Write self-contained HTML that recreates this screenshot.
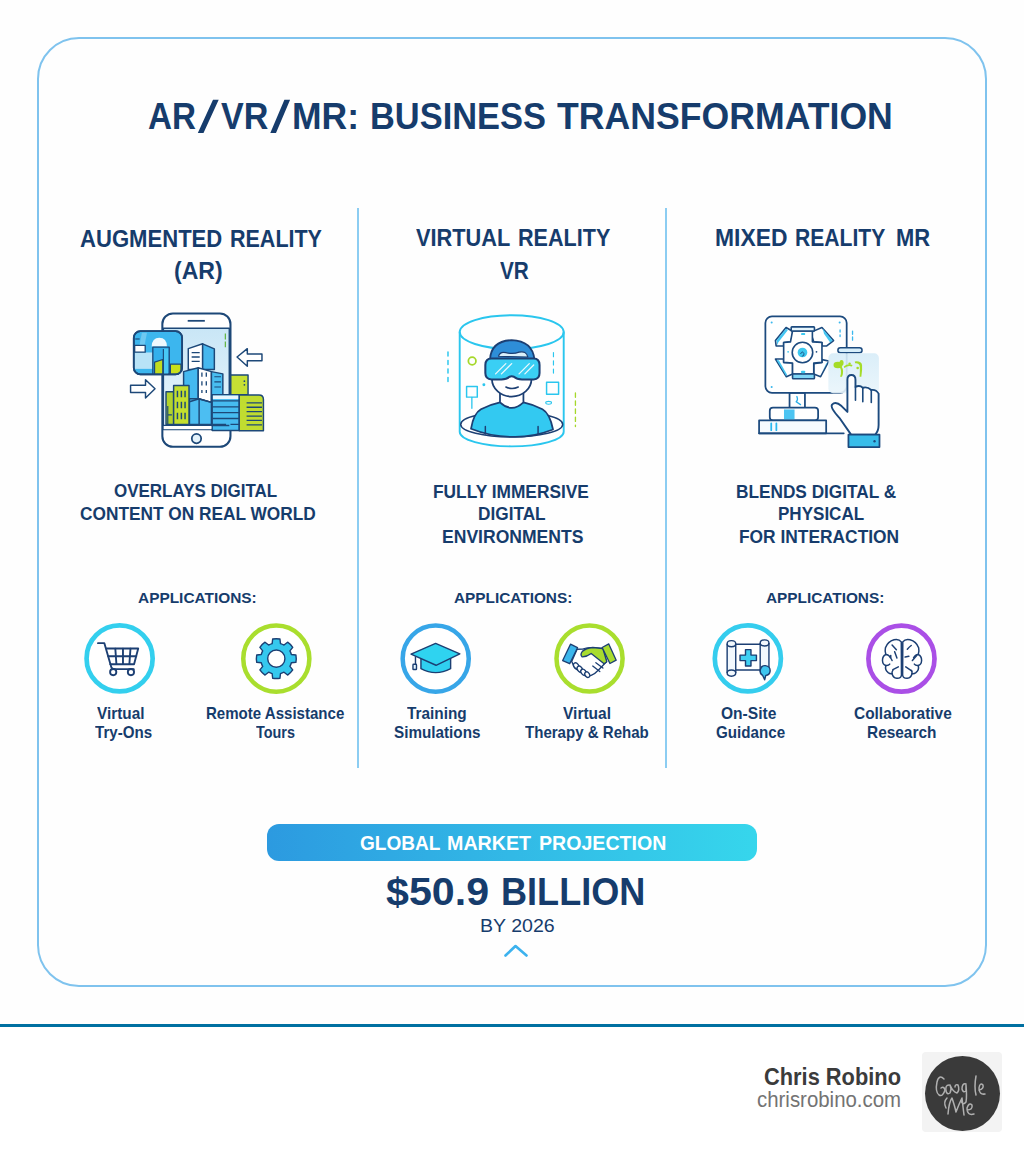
<!DOCTYPE html>
<html><head><meta charset="utf-8"><style>
html,body{margin:0;padding:0;}
body{width:1024px;height:1154px;position:relative;overflow:hidden;background:#ffffff;font-family:"Liberation Sans",sans-serif;}
.bg{position:absolute;left:0;top:0;width:1024px;height:1024px;background:#fefefe;}
.card{position:absolute;left:36.6px;top:36.6px;width:946.8px;height:946.8px;border:2px solid #7fc3ee;border-radius:42px;}
.div{position:absolute;top:208px;width:2px;height:560px;background:#8ccdf2;}
.t{position:absolute;white-space:pre;transform-origin:0 0;}
.bar{position:absolute;left:267px;top:824px;width:489.5px;height:37px;border-radius:12px;background:linear-gradient(90deg,#2c9ae0 0%,#32b9e6 50%,#36d6ec 100%);}
.hr{position:absolute;left:0;top:1024px;width:1024px;height:3px;background:#0070a1;}
.av{position:absolute;left:922px;top:1052px;width:80px;height:80px;background:#f3f3f3;border-radius:4px;}
.avc{position:absolute;left:925px;top:1055.5px;width:75px;height:75px;border-radius:50%;background:#3a3a3a;}
</style></head><body>
<div class="bg"></div>
<div class="card"></div>
<div class="div" style="left:357.2px"></div>
<div class="div" style="left:664.6px"></div>
<div class="bar"></div>
<div class="hr"></div>
<div class="av"></div>
<div class="avc"></div>
<!-- app icons: each 80x80 svg, viewBox 1024 -->
<svg style="position:absolute;left:80px;top:618px" width="80" height="80" viewBox="0 0 1024 1024">
<circle cx="507" cy="517" r="423" fill="#fff" stroke="#33cfee" stroke-width="60"/>
<g fill="none" stroke="#1c3f73" stroke-width="24" stroke-linejoin="round" stroke-linecap="round">
<path d="M230,322 H312 L400,628 Q408,655 440,655 H688"/>
<path d="M340,390 H745 L692,592 H388"/>
<path d="M362,490 H720 M452,392 L466,590 M550,392 V590 M646,392 L632,590"/>
<circle cx="425" cy="692" r="40" fill="#fff"/><circle cx="652" cy="692" r="40" fill="#fff"/>
</g></svg>

<svg style="position:absolute;left:236px;top:618px" width="80" height="80" viewBox="0 0 1024 1024">
<circle cx="516" cy="520" r="423" fill="#fff" stroke="#a9de2e" stroke-width="58"/>
<g transform="translate(516,520)">
<path id="gear" fill="#35c8ee" stroke="#1c3f73" stroke-width="18" stroke-linejoin="round" d="M-53.4,-192.7 L-46.5,-250.7 A255,255 0 0 1 46.5,-250.7 L53.4,-192.7 A200,200 0 0 1 98.5,-174.1 L144.4,-210.2 A255,255 0 0 1 210.2,-144.4 L174.1,-98.5 A200,200 0 0 1 192.7,-53.4 L250.7,-46.5 A255,255 0 0 1 250.7,46.5 L192.7,53.4 A200,200 0 0 1 174.1,98.5 L210.2,144.4 A255,255 0 0 1 144.4,210.2 L98.5,174.1 A200,200 0 0 1 53.4,192.7 L46.5,250.7 A255,255 0 0 1 -46.5,250.7 L-53.4,192.7 A200,200 0 0 1 -98.5,174.1 L-144.4,210.2 A255,255 0 0 1 -210.2,144.4 L-174.1,98.5 A200,200 0 0 1 -192.7,53.4 L-250.7,46.5 A255,255 0 0 1 -250.7,-46.5 L-192.7,-53.4 A200,200 0 0 1 -174.1,-98.5 L-210.2,-144.4 A255,255 0 0 1 -144.4,-210.2 L-98.5,-174.1 A200,200 0 0 1 -53.4,-192.7 Z"/>
<circle r="110" fill="#fff" stroke="#1c3f73" stroke-width="18"/>
</g></svg>

<svg style="position:absolute;left:395px;top:618px" width="80" height="80" viewBox="0 0 1024 1024">
<circle cx="521" cy="520" r="423" fill="#fff" stroke="#37a6e8" stroke-width="58"/>
<g stroke="#1c3f73" stroke-width="18" stroke-linejoin="round">
<path d="M332,510 V648 Q520,750 712,648 V515 Z" fill="#2fd0f0"/>
<path d="M205,462 L520,325 L830,458 L525,605 Z" fill="#2fd3f0"/>
<path d="M262,492 V592" fill="none"/>
<rect x="230" y="592" width="45" height="68" rx="8" fill="#e6f6ff"/>
</g></svg>

<svg style="position:absolute;left:549px;top:618px" width="80" height="80" viewBox="0 0 1024 1024">
<circle cx="519" cy="518" r="423" fill="#fff" stroke="#a9de2e" stroke-width="58"/>
<g stroke="#1c3f73" stroke-width="17" stroke-linejoin="round" stroke-linecap="round">
<path d="M290,555 L360,400 L430,398 Q490,372 560,380 L690,392 L735,560 L640,660 Q590,715 540,735 L470,745 L330,640 Z" fill="#fff"/>
<ellipse cx="348" cy="612" rx="30" ry="42" transform="rotate(-38 348 612)" fill="#fff"/>
<ellipse cx="395" cy="655" rx="30" ry="42" transform="rotate(-38 395 655)" fill="#fff"/>
<ellipse cx="442" cy="694" rx="30" ry="42" transform="rotate(-38 442 694)" fill="#fff"/>
<ellipse cx="490" cy="725" rx="28" ry="38" transform="rotate(-38 490 725)" fill="#fff"/>
<path d="M425,498 Q395,470 425,430 Q470,385 560,378 L690,390 L740,560 L705,585 L540,455 Q480,500 425,498 Z" fill="#a8dc2f"/>
<path d="M600,572 L690,640 M560,615 L650,685" fill="none"/>
<path d="M175,545 L275,335 L365,380 L265,585 Z" fill="#3bb6ec"/>
<path d="M680,378 L765,332 L860,540 L780,582 Z" fill="#a8dc2f"/>
</g></svg>

<svg style="position:absolute;left:708px;top:618px" width="80" height="80" viewBox="0 0 1024 1024">
<circle cx="510" cy="517" r="423" fill="#fff" stroke="#35cdee" stroke-width="60"/>
<g stroke="#1c3f73" stroke-width="18" stroke-linejoin="round" fill="none">
<path d="M355,335 H668 M355,665 H668"/>
<path d="M245,330 Q245,290 300,290 Q355,290 355,330 V705 Q355,745 300,745 Q245,745 245,705 Z" fill="#f2f8fd"/>
<path d="M245,330 Q245,368 300,368 Q355,368 355,330 M245,705 Q245,665 300,665 Q355,665 355,705"/>
<path d="M668,320 Q668,280 724,280 Q780,280 780,320 V680 L668,680 Z" fill="#f2f8fd"/>
<path d="M668,320 Q668,358 724,358 Q780,358 780,320"/>
<path d="M480,405 H550 V475 H620 V545 H550 V615 H480 V545 H410 V475 H480 Z" fill="#3fd0f2"/>
<path d="M670,660 Q680,605 735,610 Q800,620 795,680 Q790,730 740,735 L725,790 L700,735 Q660,720 670,660 Z" fill="#3fc5ef"/>
</g></svg>

<svg style="position:absolute;left:862px;top:618px" width="80" height="80" viewBox="0 0 1024 1024">
<circle cx="505" cy="520" r="423" fill="#fff" stroke="#aa4fe6" stroke-width="60"/>
<g stroke="#1c3f73" stroke-width="19" stroke-linejoin="round" stroke-linecap="round" fill="none">
<path d="M503,305 Q470,262 410,278 Q330,300 300,380 Q290,430 305,468 Q262,485 262,545 Q265,600 305,608 Q290,665 335,700 Q360,718 385,712 Q395,765 445,772 Q500,775 505,730 Z" fill="#fff"/>
<path d="M522,305 Q555,262 615,278 Q695,300 725,380 Q735,430 720,468 Q763,485 763,545 Q760,600 720,608 Q735,665 690,700 Q665,718 640,712 Q630,765 580,772 Q525,775 520,730 Z" fill="#fff"/>
<path d="M305,468 Q345,470 365,510 M305,608 Q340,612 355,590 M385,712 Q380,690 395,670 M720,468 Q680,470 660,510 M720,608 Q685,612 670,590 M640,712 Q645,690 630,670"/>
<path d="M385,345 L440,405 M418,432 L447,512 M395,662 L465,625 M580,400 Q605,370 630,352 M552,500 L600,490 M645,545 L700,480 M560,625 L640,680 M368,480 Q360,520 385,545"/>
</g></svg>
<!-- AR illustration -->
<svg style="position:absolute;left:125px;top:305px" width="150" height="150" viewBox="0 0 1024 1024">
<defs>
<linearGradient id="scr" x1="0" y1="0" x2="0" y2="1"><stop offset="0" stop-color="#c9e6f6"/><stop offset="1" stop-color="#eaf6fc"/></linearGradient>
<linearGradient id="crd" x1="0" y1="0" x2="0" y2="1"><stop offset="0" stop-color="#3aa8e6"/><stop offset="0.45" stop-color="#57b9ec"/><stop offset="0.55" stop-color="#bfe4f6"/><stop offset="1" stop-color="#3aa8e6"/></linearGradient>
</defs>
<g stroke="#1d4878" stroke-linejoin="round">
<rect x="255" y="58" width="465" height="910" rx="72" fill="#fff" stroke-width="14"/>
<path d="M428,108 H545" stroke-width="12"/>
<rect x="262" y="158" width="450" height="692" fill="url(#scr)" stroke-width="10"/>
<circle cx="488" cy="912" r="32" fill="#e5f3fb" stroke-width="12"/>
<path d="M685,195 V300" stroke="#5db33a" stroke-width="8" stroke-dasharray="40 14"/>
<!-- right green bg building -->
<rect x="722" y="478" width="118" height="135" fill="#c6e034" stroke-width="10"/>
<circle cx="815" cy="520" r="6" fill="#1d4878" stroke="none"/><circle cx="815" cy="545" r="6" fill="#1d4878" stroke="none"/>
<!-- tall white building -->
<path d="M432,298 L530,265 V440 H432 Z" fill="#fff" stroke-width="10"/>
<path d="M530,265 L610,300 V440 H530 Z" fill="#46b7ee" stroke-width="10"/>
<path d="M455,325 H510 M455,355 H510 M455,385 H510" stroke-width="9"/>
<!-- middle blue block -->
<path d="M400,455 L500,428 V815 H400 Z" fill="#45b9f0" stroke-width="10"/>
<path d="M500,428 L590,455 V665 L500,640 Z" fill="#fff" stroke-width="10"/>
<path d="M590,455 L668,470 V815 H590 Z" fill="#48bdf0" stroke-width="10"/>
<path d="M440,640 L500,640 L590,665 V815 H440 Z" fill="#4cbef2" stroke-width="10"/>
<path d="M440,660 L506,640 L590,665 M506,640 V815" fill="none" stroke-width="10"/>
<path d="M525,460 V490 M555,460 V490 M525,520 V550 M555,520 V550 M525,580 V600 M555,580 V600" stroke-width="9"/>
<path d="M610,490 H655 M610,525 H655 M610,560 H655" stroke-width="8"/>
<!-- green buildings left -->
<rect x="280" y="592" width="52" height="223" fill="#b2d32c" stroke-width="10"/>
<rect x="332" y="550" width="105" height="265" fill="#c4df2e" stroke-width="10"/>
<path d="M358,585 V630 M385,585 V630 M410,585 V630 M358,660 V705 M385,660 V705 M410,660 V705 M358,735 V780 M385,735 V780 M410,735 V780" stroke-width="10"/>
<path d="M292,690 V815 M292,750 H320" stroke-width="8"/>
<!-- blue striped -->
<rect x="595" y="612" width="185" height="245" fill="#46bbf0" stroke-width="10"/>
<rect x="600" y="618" width="175" height="24" fill="#e8f6fd" stroke="none"/>
<path d="M598,655 H778 M598,695 H778 M598,735 H778 M598,775 H778 M598,815 H690 M720,815 H778" stroke-width="9"/>
<!-- green right -->
<path d="M780,615 H915 Q945,615 945,645 V858 H780 Z" fill="#c0dc30" stroke-width="10"/>
<path d="M830,668 H935 M830,698 H935 M830,728 H935 M830,758 H935 M830,788 H935 M830,818 H935" stroke-width="9"/>
<path d="M262,822 H712" stroke-width="10"/>
<rect x="264" y="826" width="325" height="22" fill="#fff" stroke="none"/>
<!-- left overlay card -->
<rect x="60" y="178" width="330" height="295" rx="45" fill="#3cb6ee" stroke-width="12"/>
<path d="M66,324 H190 V436 H66 Z" fill="#b8e3f7" stroke="none"/>
<path d="M115,190 L150,190 L125,320 L90,320 Z" fill="#8fd3f3" stroke="none" opacity="0.6"/>
<rect x="66" y="276" width="72" height="46" fill="#ffffff" stroke-width="9"/>
<path d="M70,232 H100" stroke-width="8"/>
<path d="M182,284 Q184,224 234,224 Q286,224 286,284 Z" fill="#eef8fd" stroke="none"/>
<path d="M190,288 H302 V472 H190 Z" fill="#33b0ec" stroke-width="9"/>
<path d="M202,390 L258,372 V472 H202 Z" fill="#c2dc1e" stroke-width="8"/>
<path d="M262,300 V472" stroke-width="8"/>
<rect x="266" y="300" width="28" height="172" fill="#49c9f5" stroke="none"/>
<path d="M310,404 H382 V440 Q382,472 350,472 H310 Z" fill="#c8e01a" stroke-width="8"/>
<rect x="60" y="178" width="330" height="295" rx="45" fill="none" stroke-width="12"/>
<!-- arrows -->
<path d="M765,355 L835,298 V335 H935 V380 H835 V418 Z" fill="#fff" stroke-width="10"/>
<path d="M205,572 L140,510 V548 H38 V598 H140 V635 Z" fill="#fff" stroke-width="10"/>
</g>
</svg>

<!-- VR illustration -->
<svg style="position:absolute;left:437px;top:305px" width="150" height="150" viewBox="0 0 1024 1024">
<g stroke-linejoin="round" stroke-linecap="round">
<path d="M155,185 V865 A355,100 0 0 0 865,865 V185" fill="none" stroke="#2ac6ee" stroke-width="13"/>
<ellipse cx="510" cy="815" rx="348" ry="85" fill="#fff" stroke="#1c3f73" stroke-width="10"/>
<path d="M232,845 Q250,740 300,712 Q360,680 430,665 H590 Q660,680 720,712 Q770,740 792,850 Q650,905 510,900 Q370,900 232,845 Z" fill="#33c9f1" stroke="#1c3f73" stroke-width="12"/>
<path d="M330,830 V880 M690,830 V880" stroke="#1c3f73" stroke-width="10"/>
<ellipse cx="510" cy="185" rx="355" ry="115" fill="none" stroke="#2ac6ee" stroke-width="13"/>
<path d="M430,600 V665 Q510,740 590,665 V600 Z" fill="#fff" stroke="#1c3f73" stroke-width="12"/>
<ellipse cx="510" cy="505" rx="135" ry="120" fill="#fff" stroke="#1c3f73" stroke-width="12"/>
<path d="M470,560 Q512,580 555,560" fill="none" stroke="#1c3f73" stroke-width="10"/>
<path d="M362,370 Q370,245 510,240 Q650,245 665,370 Z" fill="#2e8ed8" stroke="#1c3f73" stroke-width="12"/>
<path d="M420,350 Q430,315 470,325 Q520,338 560,322 Q610,310 620,355 Z" fill="#d9f0fb" stroke="#1c3f73" stroke-width="8"/>
<path d="M372,365 H660 Q700,365 700,410 V465 Q700,508 660,508 H580 Q545,508 525,490 Q510,482 495,490 Q475,508 440,508 H372 Q330,508 330,465 V410 Q330,365 372,365 Z" fill="#3acff4" stroke="#1c3f73" stroke-width="14"/>
<path d="M400,470 L470,400 M440,470 L510,400 M560,470 L630,400 M600,470 L660,410" stroke="#e9f8fd" stroke-width="9"/>
<circle cx="240" cy="382" r="26" fill="none" stroke="#a6d82b" stroke-width="12"/>
<rect x="202" y="557" width="73" height="72" fill="none" stroke="#2ac6ee" stroke-width="10"/>
<path d="M238,630 V705" stroke="#2ac6ee" stroke-width="9"/>
<rect x="748" y="527" width="82" height="82" fill="none" stroke="#2ac6ee" stroke-width="10"/>
<path d="M75,320 V535" stroke="#2ac6ee" stroke-width="10" stroke-dasharray="28 30"/>
<path d="M795,325 V490" stroke="#2ac6ee" stroke-width="8" stroke-dasharray="28 28"/>
<path d="M945,600 V830" stroke="#a6d82b" stroke-width="9" stroke-dasharray="30 25"/>
<circle cx="320" cy="545" r="10" fill="#2ac6ee"/>
<ellipse cx="762" cy="668" rx="20" ry="10" fill="none" stroke="#2ac6ee" stroke-width="7"/>
</g>
</svg>

<!-- MR illustration -->
<svg style="position:absolute;left:750px;top:305px" width="150" height="150" viewBox="0 0 1024 1024">
<g stroke="#1c4a7e" stroke-linejoin="round" stroke-linecap="round">
<rect x="270" y="600" width="105" height="102" fill="#fff" stroke-width="12"/>
<path d="M320,625 Q330,650 315,660 L345,680" fill="none" stroke="#2aaee8" stroke-width="9"/>
<rect x="135" y="700" width="330" height="88" rx="22" fill="#fff" stroke-width="12"/>
<rect x="232" y="713" width="72" height="70" fill="#4cc4f2" stroke="none"/>
<rect x="62" y="788" width="458" height="88" fill="#f7fbfe" stroke-width="12"/>
<path d="M145,808 V855 M180,808 V855" stroke="#2ab8ef" stroke-width="12"/>
<path d="M62,876 H640" stroke-width="12"/>
<rect x="105" y="78" width="555" height="522" rx="45" fill="#fff" stroke-width="12"/>
<circle cx="148" cy="120" r="7" fill="#3ab8ee" stroke="none"/><circle cx="612" cy="120" r="7" fill="#3ab8ee" stroke="none"/><circle cx="148" cy="560" r="7" fill="#3ab8ee" stroke="none"/>
<path d="M615,170 V215" stroke="#3ab8ee" stroke-width="9" stroke-dasharray="15 20"/>
<path d="M700,178 V250" stroke="#3ab8ee" stroke-width="9" stroke-dasharray="22 18"/>
<!-- device -->
<path d="M173.8,242.4 L246.2,153.7 L290.5,179.4 L290.5,209.7 L276.5,251.7 L229.8,256.4 L229.8,279.7 L178.5,279.7 Z" fill="#fff" stroke-width="11"/>
<path d="M425.9,181.7 L491.2,153.7 L570.5,242.4 L523.9,279.7 L491.2,279.7 L491.2,256.4 L435.2,251.7 L421.2,209.7 Z" fill="#fff" stroke-width="11"/>
<path d="M173.8,368.4 L248.5,489.8 L290.5,471.1 L290.5,396.4 L229.8,391.8 L229.8,368.4 Z" fill="#fff" stroke-width="11"/>
<path d="M491.2,373.1 L537.9,382.4 L481.9,489.8 L435.2,471.1 L435.2,401.1 L491.2,391.8 Z" fill="#fff" stroke-width="11"/>
<path d="M180.8,242.4 L246.2,160.7 L257.8,172.4 L192.5,256.4 L187.8,275.1 Z" fill="#45c6f2" stroke="none"/>
<path d="M495.9,160.7 L563.5,242.4 L547.2,256.4 L505.2,195.7 Z" fill="#45c6f2" stroke="none"/>
<path d="M180.8,375.4 L197.2,377.8 L253.2,475.8 L246.2,485.1 Z" fill="#45c6f2" stroke="none"/>
<path d="M530.9,387.1 L519.2,401.1 L486.5,471.1 L479.5,482.8 Z" fill="#45c6f2" stroke="none"/>
<path d="M290.5,177.1 L425.9,177.1 L425.9,251.7 L491.2,256.4 L491.2,391.8 L435.2,396.4 L435.2,471.1 L290.5,471.1 L290.5,396.4 L229.8,391.8 L229.8,256.4 L276.5,251.7 Z" fill="#fff" stroke-width="11"/>
<rect x="281.2" y="149.1" width="158.7" height="28.0" rx="5" fill="#e6f6fd" stroke-width="11"/>
<rect x="290.5" y="471.1" width="149.3" height="32.7" rx="5" fill="#7fd6f6" stroke-width="11"/>
<circle cx="358.2" cy="324.1" r="70" fill="#fff" stroke-width="11"/>
<circle cx="358.2" cy="324.1" r="33" fill="#3cc8f0" stroke="none"/>
<path d="M346.2,332.1 q10,-25 22,0 q5,15 -12,18" fill="none" stroke-width="6"/>
<rect x="348.8" y="191.1" width="28" height="14" rx="6" fill="#3cc8f0" stroke="none"/>
<rect x="347.8" y="449.1" width="30" height="16" rx="7" fill="#3cc8f0" stroke="none"/>
<circle cx="260.2" cy="319.4" r="6" fill="#3cc8f0" stroke="none"/>
<circle cx="453.9" cy="319.4" r="6" fill="#1c4a7e" stroke="none"/>
<!-- bar and panel -->
<rect x="600" y="292" width="165" height="34" rx="17" fill="#d7eefa" stroke-width="10"/>
<defs><linearGradient id="pnl" x1="0" y1="0" x2="0" y2="1"><stop offset="0" stop-color="#d6ecf8"/><stop offset="1" stop-color="#e9f5fb"/></linearGradient></defs><rect x="535" y="330" width="345" height="272" rx="32" fill="url(#pnl)" fill-opacity="0.9" stroke="none"/>
<g fill="#a5dc28" stroke="none"><ellipse cx="600" cy="410" rx="30" ry="22"/><ellipse cx="625" cy="395" rx="14" ry="20"/><path d="M610,420 Q630,450 615,490 L628,490 Q645,450 625,420 Z"/><path d="M640,420 Q670,395 700,410 L695,420 Q670,410 645,430 Z"/><circle cx="680" cy="400" r="8"/><path d="M715,385 Q760,380 765,410 Q768,440 760,490 L748,490 Q752,440 748,412 Q740,395 718,398 Z"/><circle cx="735" cy="430" r="9"/></g>
<!-- hand -->
<path d="M690,885 L610,770 Q545,700 560,680 Q585,655 625,690 L665,730 V510 Q665,478 692,478 Q720,478 720,510 V560 Q748,545 770,565 Q800,555 828,580 Q860,575 878,605 V820 Q878,860 855,885 Z" fill="#fff" stroke-width="13"/>
<path d="M720,560 V650 M770,565 V660 M828,580 V665" fill="none" stroke-width="11"/>
<rect x="672" y="885" width="212" height="85" fill="#38bdea" stroke-width="12"/>
<circle cx="850" cy="930" r="8" fill="#1c4a7e" stroke="none"/>
</g>
</svg>
<svg style="position:absolute;left:500px;top:940px" width="32" height="20" viewBox="0 0 32 20">
<path d="M5.5,15.5 L15.5,6 L26.5,15.5" fill="none" stroke="#3cb2ee" stroke-width="2.6" stroke-linecap="round" stroke-linejoin="round"/>
</svg>
<svg style="position:absolute;left:922px;top:1052px" width="80" height="80" viewBox="0 0 80 80">
<g fill="none" stroke="#b0b0b0" stroke-width="1.5" stroke-linecap="round" stroke-linejoin="round">
<path d="M22,27 Q17,22 15,30 Q13,40 17,43 Q21,45 23,38 Q22,34 19,36"/>
<path d="M27,33 Q23,33 24,39 Q25,43 28,41 Q30,37 28,33 Q31,40 35,41 Q38,38 36,33 Q33,32 33,35"/>
<path d="M44,32 Q40,31 40,37 Q41,41 44,39 V33 Q45,45 44,50 Q41,54 39,49"/>
<path d="M54,24 Q52,35 54,43"/>
<path d="M57,38 Q62,37 61,33 Q58,30 57,36 Q57,43 63,42"/>
<path d="M25,46 Q21,50 24,56 M26,62 Q27,50 30,46 Q33,55 34,60 Q37,52 40,46 Q41,55 42,63"/>
<path d="M45,58 Q51,58 50,53 Q47,50 45,56 Q45,64 52,62"/>
</g></svg>
<svg style="position:absolute;left:190px;top:95px" width="110" height="45" viewBox="190 95 110 45">
<path d="M197.8,133 L203.5,133 L218.7,99.8 L213,99.8 Z M270.3,133 L276,133 L290.1,99.8 L284.4,99.8 Z" fill="#163c6c"/>
</svg>

<div class="t" style="left:148.10px;top:98px;font-size:37px;line-height:37px;font-weight:bold;color:#163c6c;transform:scaleX(0.8972)">AR</div>
<div class="t" style="left:220.60px;top:98px;font-size:37px;line-height:37px;font-weight:bold;color:#163c6c;transform:scaleX(0.9215)">VR</div>
<div class="t" style="left:291.78px;top:98px;font-size:37px;line-height:37px;font-weight:bold;color:#163c6c;transform:scaleX(0.9591)">MR:</div>
<div class="t" style="left:369.74px;top:98px;font-size:37px;line-height:37px;font-weight:bold;color:#163c6c;transform:scaleX(0.9299)">BUSINESS</div>
<div class="t" style="left:557.10px;top:98px;font-size:37px;line-height:37px;font-weight:bold;color:#163c6c;transform:scaleX(0.9631)">TRANSFORMATION</div>
<div class="t" style="left:80.20px;top:228px;font-size:23.0px;line-height:23.0px;font-weight:bold;color:#163c6c;transform:scaleX(0.9600)">AUGMENTED</div>
<div class="t" style="left:230.27px;top:228px;font-size:23.0px;line-height:23.0px;font-weight:bold;color:#163c6c;transform:scaleX(0.9346)">REALITY</div>
<div class="t" style="left:174.40px;top:260px;font-size:23.0px;line-height:23.0px;font-weight:bold;color:#163c6c;transform:scaleX(1.0026)">(AR)</div>
<div class="t" style="left:415.70px;top:227px;font-size:23.0px;line-height:23.0px;font-weight:bold;color:#163c6c;transform:scaleX(0.9467)">VIRTUAL</div>
<div class="t" style="left:518.06px;top:227px;font-size:23.0px;line-height:23.0px;font-weight:bold;color:#163c6c;transform:scaleX(0.9377)">REALITY</div>
<div class="t" style="left:500.00px;top:260px;font-size:23.0px;line-height:23.0px;font-weight:bold;color:#163c6c;transform:scaleX(0.9029)">VR</div>
<div class="t" style="left:714.91px;top:227px;font-size:23.0px;line-height:23.0px;font-weight:bold;color:#163c6c;transform:scaleX(0.9939)">MIXED</div>
<div class="t" style="left:795.48px;top:227px;font-size:23.0px;line-height:23.0px;font-weight:bold;color:#163c6c;transform:scaleX(0.9181)">REALITY</div>
<div class="t" style="left:895.55px;top:227px;font-size:23.0px;line-height:23.0px;font-weight:bold;color:#163c6c;transform:scaleX(0.9528)">MR</div>
<div class="t" style="left:114.40px;top:483px;font-size:17.8px;line-height:17.8px;font-weight:bold;color:#163c6c;transform:scaleX(0.9547)">OVERLAYS DIGITAL</div>
<div class="t" style="left:79.60px;top:506px;font-size:17.8px;line-height:17.8px;font-weight:bold;color:#163c6c;transform:scaleX(0.9714)">CONTENT ON REAL WORLD</div>
<div class="t" style="left:432.93px;top:484px;font-size:17.8px;line-height:17.8px;font-weight:bold;color:#163c6c;transform:scaleX(0.9736)">FULLY IMMERSIVE</div>
<div class="t" style="left:478.03px;top:506px;font-size:17.8px;line-height:17.8px;font-weight:bold;color:#163c6c;transform:scaleX(0.9690)">DIGITAL</div>
<div class="t" style="left:441.71px;top:529px;font-size:17.8px;line-height:17.8px;font-weight:bold;color:#163c6c;transform:scaleX(0.9874)">ENVIRONMENTS</div>
<div class="t" style="left:735.53px;top:484px;font-size:17.8px;line-height:17.8px;font-weight:bold;color:#163c6c;transform:scaleX(0.9692)">BLENDS DIGITAL &amp;</div>
<div class="t" style="left:777.74px;top:506px;font-size:17.8px;line-height:17.8px;font-weight:bold;color:#163c6c;transform:scaleX(0.9580)">PHYSICAL</div>
<div class="t" style="left:739.02px;top:529px;font-size:17.8px;line-height:17.8px;font-weight:bold;color:#163c6c;transform:scaleX(0.9764)">FOR INTERACTION</div>
<div class="t" style="left:137.50px;top:590px;font-size:15.4px;line-height:15.4px;font-weight:bold;color:#163c6c;transform:scaleX(1.0014)">APPLICATIONS:</div>
<div class="t" style="left:454.10px;top:590px;font-size:15.4px;line-height:15.4px;font-weight:bold;color:#163c6c;transform:scaleX(0.9980)">APPLICATIONS:</div>
<div class="t" style="left:766.40px;top:590px;font-size:15.4px;line-height:15.4px;font-weight:bold;color:#163c6c;transform:scaleX(0.9980)">APPLICATIONS:</div>
<div class="t" style="left:96.60px;top:706px;font-size:16.7px;line-height:16.7px;font-weight:bold;color:#163c6c;transform:scaleX(0.9198)">Virtual</div>
<div class="t" style="left:94.60px;top:725px;font-size:16.7px;line-height:16.7px;font-weight:bold;color:#163c6c;transform:scaleX(0.9048)">Try-Ons</div>
<div class="t" style="left:206.40px;top:706px;font-size:16.7px;line-height:16.7px;font-weight:bold;color:#163c6c;transform:scaleX(0.9019)">Remote Assistance</div>
<div class="t" style="left:255.70px;top:725px;font-size:16.7px;line-height:16.7px;font-weight:bold;color:#163c6c;transform:scaleX(0.8632)">Tours</div>
<div class="t" style="left:406.60px;top:706px;font-size:16.7px;line-height:16.7px;font-weight:bold;color:#163c6c;transform:scaleX(0.9195)">Training</div>
<div class="t" style="left:394.30px;top:725px;font-size:16.7px;line-height:16.7px;font-weight:bold;color:#163c6c;transform:scaleX(0.9141)">Simulations</div>
<div class="t" style="left:563.40px;top:706px;font-size:16.7px;line-height:16.7px;font-weight:bold;color:#163c6c;transform:scaleX(0.9296)">Virtual</div>
<div class="t" style="left:525.30px;top:725px;font-size:16.7px;line-height:16.7px;font-weight:bold;color:#163c6c;transform:scaleX(0.9019)">Therapy &amp; Rehab</div>
<div class="t" style="left:721.00px;top:706px;font-size:16.7px;line-height:16.7px;font-weight:bold;color:#163c6c;transform:scaleX(0.9330)">On-Site</div>
<div class="t" style="left:716.00px;top:725px;font-size:16.7px;line-height:16.7px;font-weight:bold;color:#163c6c;transform:scaleX(0.9095)">Guidance</div>
<div class="t" style="left:853.50px;top:706px;font-size:16.7px;line-height:16.7px;font-weight:bold;color:#163c6c;transform:scaleX(0.9248)">Collaborative</div>
<div class="t" style="left:867.18px;top:725px;font-size:16.7px;line-height:16.7px;font-weight:bold;color:#163c6c;transform:scaleX(0.9236)">Research</div>
<div class="t" style="left:360.30px;top:833px;font-size:20.5px;line-height:20.5px;font-weight:bold;color:#ffffff;transform:scaleX(0.9300)">GLOBAL</div>
<div class="t" style="left:447.14px;top:833px;font-size:20.5px;line-height:20.5px;font-weight:bold;color:#ffffff;transform:scaleX(0.9591)">MARKET</div>
<div class="t" style="left:538.54px;top:833px;font-size:20.5px;line-height:20.5px;font-weight:bold;color:#ffffff;transform:scaleX(0.9554)">PROJECTION</div>
<div class="t" style="left:385.50px;top:873px;font-size:38.7px;line-height:38.7px;font-weight:bold;color:#163c6c;transform:scaleX(1.0644)">$50.9</div>
<div class="t" style="left:501.13px;top:873px;font-size:38.7px;line-height:38.7px;font-weight:bold;color:#163c6c;transform:scaleX(0.9331)">BILLION</div>
<div class="t" style="left:480.14px;top:917px;font-size:18.5px;line-height:18.5px;font-weight:normal;color:#163c6c;transform:scaleX(1.0576)">BY 2026</div>
<div class="t" style="left:763.75px;top:1066px;font-size:23.7px;line-height:23.7px;font-weight:bold;color:#3b3b3b;transform:scaleX(0.9212)">Chris Robino</div>
<div class="t" style="left:757.00px;top:1089px;font-size:21.8px;line-height:21.8px;font-weight:normal;color:#737373;transform:scaleX(0.9366)">chrisrobino.com</div>
</body></html>
